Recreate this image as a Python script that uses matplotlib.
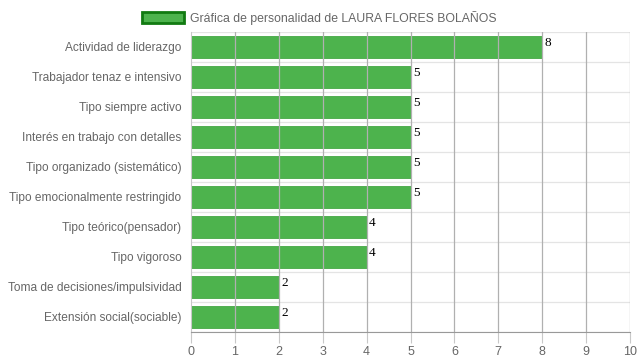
import matplotlib.pyplot as plt
from matplotlib.patches import Patch

# Data
categories = ["Actividad de liderazgo", "Trabajador tenaz e intensivo", "Tipo siempre activo",
              "Interés en trabajo con detalles", "Tipo organizado (sistemático)",
              "Tipo emocionalmente restringido", "Tipo teórico(pensador)", "Tipo vigoroso",
              "Toma de decisiones/impulsividad", "Extensión social(sociable)"]
values = [8, 5, 5, 5, 5, 5, 4, 4, 2, 2]
xticks = list(range(0, 11))
title = "Gráfica de personalidad de LAURA FLORES BOLAÑOS"

plt.rcParams['font.family'] = ['Liberation Sans', 'DejaVu Sans']

fig = plt.figure(figsize=(6.39, 3.6), dpi=100)
ax = fig.add_axes([191 / 639, 28 / 360, (630 - 191) / 639, 300 / 360])

n = len(categories)
ypos = list(range(n))
ax.barh(ypos, values, height=0.73, color='#4db34d', edgecolor='#45a845', linewidth=0.6, zorder=1)

for y, v in zip(ypos, values):
    ax.text(v + 0.06, y - 0.12, str(v), fontfamily='Liberation Serif', fontsize=9.5,
            color='black', ha='left', va='center', zorder=3)

ax.set_xlim(0, 10)
ax.set_ylim(n - 0.5, -0.5)
ax.set_xticks(xticks)
ax.set_yticks(ypos)
ax.set_yticklabels(categories)

# vertical grid lines at x ticks
for x in xticks[1:]:
    ax.axvline(x, color='#b0b0b0', linewidth=0.9, zorder=2)
# horizontal lines between categories
for b in range(n + 1):
    ax.axhline(b - 0.5, color='#e4e4e4', linewidth=0.9, zorder=0)

for s in ['top', 'right']:
    ax.spines[s].set_visible(False)
ax.spines['left'].set_color('#c8c8c8')
ax.spines['bottom'].set_color('#999999')
ax.tick_params(axis='y', length=0, pad=7, labelsize=8.6, labelcolor='#666666')
ax.tick_params(axis='x', length=8, color='#c8c8c8', labelsize=9, labelcolor='#666666', pad=2)

leg = fig.legend(handles=[Patch(facecolor='#4db34d', edgecolor='#117a11', linewidth=2, label=title)],
                 loc='upper center', bbox_to_anchor=(0.5, 1.0), frameon=False, fontsize=8.8,
                 handlelength=3.4, handleheight=1.0, handletextpad=0.55, labelcolor='#666666')

fig.savefig('out.png', dpi=100)
